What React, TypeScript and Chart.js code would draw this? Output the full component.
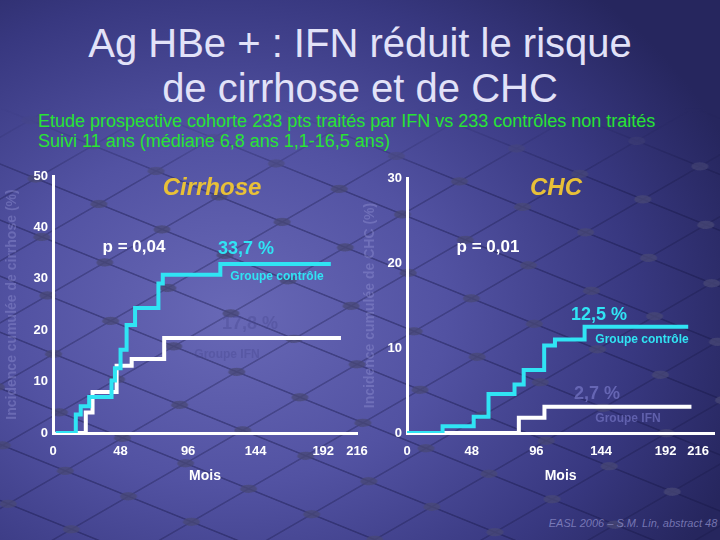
import React, { useEffect, useRef } from "react";
import { Chart, registerables } from "chart.js";

Chart.register(...registerables);

// ---- data (months, cumulative incidence %) ----
const monthTicks = [0, 48, 96, 144, 192, 216];

const cirrhoseControlMonths = [2, 16.2, 19.7, 25.7, 41.6, 44.0, 48.0, 52.3, 58.3, 74.9, 78.0, 118.9, 197.4];
const cirrhoseControlPct = [0, 3.6, 5.2, 7.0, 10.2, 12.6, 16.2, 21.0, 24.3, 29.1, 30.8, 32.9, 32.9];
const cirrhoseIfnMonths = [2, 23.3, 28.1, 45.2, 55.9, 79.0, 204.6];
const cirrhoseIfnPct = [0, 4.0, 8.0, 13.1, 14.4, 18.5, 18.5];

const chcControlMonths = [0, 26.4, 49.5, 60.5, 79.8, 86.6, 101.8, 109.8, 131.8, 208.7];
const chcControlPct = [0, 0.8, 1.9, 4.6, 5.7, 7.4, 10.3, 11.0, 12.5, 12.5];
const chcIfnMonths = [0, 83.0, 102.0, 211.1];
const chcIfnPct = [0, 1.8, 3.1, 3.1];

const CYAN = "#30e4f4";
const GOLD = "#e8c038";
const GREEN = "#28e434";
const FONT = "'Liberation Sans', Arial, sans-serif";

const pts = (xs: number[], ys: number[]) => xs.map((x, i) => ({ x, y: ys[i] }));

type PanelCfg = {
  control: { x: number; y: number }[];
  ifn: { x: number; y: number }[];
  yMax: number;
  xMax: number;
  yTitle: string;
  yWidth: number;
  padTop: number;
  padRight: number;
};

function makeChart(canvas: HTMLCanvasElement, c: PanelCfg) {
  const tickFont = { family: FONT, size: 13, weight: "bold" as const };
  return new Chart(canvas, {
    type: "line",
    data: {
      datasets: [
        {
          data: c.control,
          borderColor: CYAN,
          borderWidth: 4,
          stepped: "before",
          pointRadius: 0,
          fill: false,
          borderCapStyle: "butt",
        },
        {
          data: c.ifn,
          borderColor: "#ffffff",
          borderWidth: 4,
          stepped: "before",
          pointRadius: 0,
          fill: false,
          borderCapStyle: "butt",
        },
      ],
    },
    options: {
      animation: false,
      responsive: false,
      maintainAspectRatio: false,
      layout: { padding: { top: c.padTop, right: c.padRight, left: 0, bottom: 0 } },
      plugins: { legend: { display: false }, tooltip: { enabled: false } },
      scales: {
        x: {
          type: "linear",
          min: 0,
          max: c.xMax,
          afterBuildTicks: (s: any) => {
            s.ticks = monthTicks.map((v) => ({ value: v }));
          },
          afterFit: (s: any) => {
            s.height = 57;
          },
          grid: { display: false, drawTicks: false },
          border: { display: true, color: "#ffffff", width: 3 },
          ticks: {
            color: "#ffffff",
            font: tickFont,
            padding: 11,
            autoSkip: false,
            maxRotation: 0,
            callback: (v: any) => String(v),
          },
          title: {
            display: true,
            text: "Mois",
            color: "#ffffff",
            font: { family: FONT, size: 14, weight: "bold" },
            padding: { top: 0, bottom: 5 },
          },
        },
        y: {
          type: "linear",
          min: 0,
          max: c.yMax,
          afterFit: (s: any) => {
            s.width = c.yWidth;
          },
          grid: { display: false, drawTicks: false },
          border: { display: true, color: "#ffffff", width: 3 },
          ticks: { color: "#ffffff", font: tickFont, stepSize: 10, padding: 5 },
          title: {
            display: true,
            text: c.yTitle,
            color: "rgba(150,150,215,0.4)",
            font: { family: FONT, size: 14, weight: "bold" },
            padding: { top: 4, bottom: 4 },
          },
        },
      },
    },
  });
}

const abs = (x: number, y: number, extra: React.CSSProperties = {}): React.CSSProperties => ({
  position: "absolute",
  left: x,
  top: y,
  transform: "translate(-50%, -50%)",
  whiteSpace: "nowrap",
  lineHeight: 1,
  fontFamily: FONT,
  ...extra,
});

function Backdrop() {
  const W = 68;
  const H = 52;
  const corners = [
    [0, 0],
    [W, 0],
    [0, H],
    [W, H],
  ];
  return (
    <svg width={720} height={540} style={{ position: "absolute", left: 0, top: 0 }}>
      <defs>
        <pattern
          id="net"
          width={W}
          height={H}
          patternUnits="userSpaceOnUse"
          patternTransform="translate(30 120) rotate(22) skewX(-38)"
        >
          <path
            d={`M0 0 H${W} M0 0 V${H} M0 ${H} H${W} M${W} 0 V${H}`}
            stroke="rgba(22,22,70,0.4)"
            strokeWidth={1.6}
            fill="none"
          />
          {corners.map(([cx, cy], i) => (
            <ellipse key={i} cx={cx} cy={cy} rx={7} ry={5} fill="rgba(72,72,118,0.75)" />
          ))}
        </pattern>
        <linearGradient id="fade" x1="0" y1="0" x2="0" y2="1">
          <stop offset="0.2" stopColor="black" />
          <stop offset="0.34" stopColor="white" />
          <stop offset="1" stopColor="white" />
        </linearGradient>
        <mask id="netmask">
          <rect width={720} height={540} fill="url(#fade)" />
        </mask>
      </defs>
      <rect width={720} height={540} fill="url(#net)" mask="url(#netmask)" />
    </svg>
  );
}

export default function App() {
  const c1 = useRef<HTMLCanvasElement>(null);
  const c2 = useRef<HTMLCanvasElement>(null);

  useEffect(() => {
    const a = makeChart(c1.current!, {
      control: pts(cirrhoseControlMonths, cirrhoseControlPct),
      ifn: pts(cirrhoseIfnMonths, cirrhoseIfnPct),
      yMax: 50,
      xMax: 216,
      yTitle: "Incidence cumulée de cirrhose (%)",
      yWidth: 53,
      padTop: 16,
      padRight: 23,
    });
    const b = makeChart(c2.current!, {
      control: pts(chcControlMonths, chcControlPct),
      ifn: pts(chcIfnMonths, chcIfnPct),
      yMax: 30,
      xMax: 228,
      yTitle: "Incidence cumulée de CHC (%)",
      yWidth: 49,
      padTop: 18,
      padRight: 2,
    });
    return () => {
      a.destroy();
      b.destroy();
    };
  }, []);

  const bold = (size: number, color: string): React.CSSProperties => ({ fontSize: size, fontWeight: "bold", color });

  return (
    <div
      style={{
        position: "absolute",
        left: 0,
        top: 0,
        width: 720,
        height: 540,
        overflow: "hidden",
        background:
          "radial-gradient(ellipse 75% 80% at 32% 58%, #6868b6 0%, #5252a2 40%, #383880 75%, #26265e 100%)",
        fontFamily: FONT,
      }}
    >
      <Backdrop />
      {/* Title */}
      <div style={{ position: "absolute", left: 0, width: 720, top: 23, textAlign: "center", fontSize: 40, lineHeight: 1, color: "#e2e2f8", whiteSpace: "nowrap" }}>
        Ag HBe + : IFN réduit le risque
      </div>
      <div style={{ position: "absolute", left: 0, width: 720, top: 68, textAlign: "center", fontSize: 40, lineHeight: 1, color: "#e2e2f8", whiteSpace: "nowrap" }}>
        de cirrhose et de CHC
      </div>
      <div style={{ position: "absolute", left: 38, top: 112, fontSize: 18, lineHeight: 1, color: GREEN, whiteSpace: "nowrap" }}>
        Etude prospective cohorte 233 pts traités par IFN vs 233 contrôles non traités
      </div>
      <div style={{ position: "absolute", left: 38, top: 132, fontSize: 18, lineHeight: 1, color: GREEN, whiteSpace: "nowrap" }}>
        Suivi 11 ans (médiane 6,8 ans 1,1-16,5 ans)
      </div>

      <canvas ref={c1} width={380} height={330} style={{ position: "absolute", left: 0, top: 160, width: 380, height: 330 }} />
      <canvas ref={c2} width={362} height={330} style={{ position: "absolute", left: 358, top: 160, width: 362, height: 330 }} />

      {/* Cirrhose annotations */}
      <div style={abs(212, 187, { fontSize: 24, fontWeight: "bold", fontStyle: "italic", color: GOLD })}>Cirrhose</div>
      <div style={abs(134, 246, bold(17, "#ffffff"))}>p = 0,04</div>
      <div style={abs(246, 248, bold(18, CYAN))}>33,7 %</div>
      <div style={abs(277, 276, bold(12, CYAN))}>Groupe contrôle</div>
      <div style={abs(250, 323, bold(18, "rgba(70,70,140,0.35)"))}>17,8 %</div>
      <div style={abs(227, 354, bold(12, "rgba(70,70,140,0.35)"))}>Groupe IFN</div>

      {/* CHC annotations */}
      <div style={abs(556, 187, { fontSize: 24, fontWeight: "bold", fontStyle: "italic", color: GOLD })}>CHC</div>
      <div style={abs(488, 246, bold(17, "#ffffff"))}>p = 0,01</div>
      <div style={abs(599, 314, bold(18, CYAN))}>12,5 %</div>
      <div style={abs(642, 339, bold(12, CYAN))}>Groupe contrôle</div>
      <div style={abs(597, 393, bold(18, "rgba(120,120,200,0.7)"))}>2,7 %</div>
      <div style={abs(628, 418, bold(12, "rgba(120,120,200,0.65)"))}>Groupe IFN</div>

      {/* Footer */}
      <div style={abs(633, 523, { fontSize: 11, fontStyle: "italic", color: "rgba(150,150,210,0.7)" })}>
        EASL 2006 – S.M. Lin, abstract 48
      </div>
    </div>
  );
}
